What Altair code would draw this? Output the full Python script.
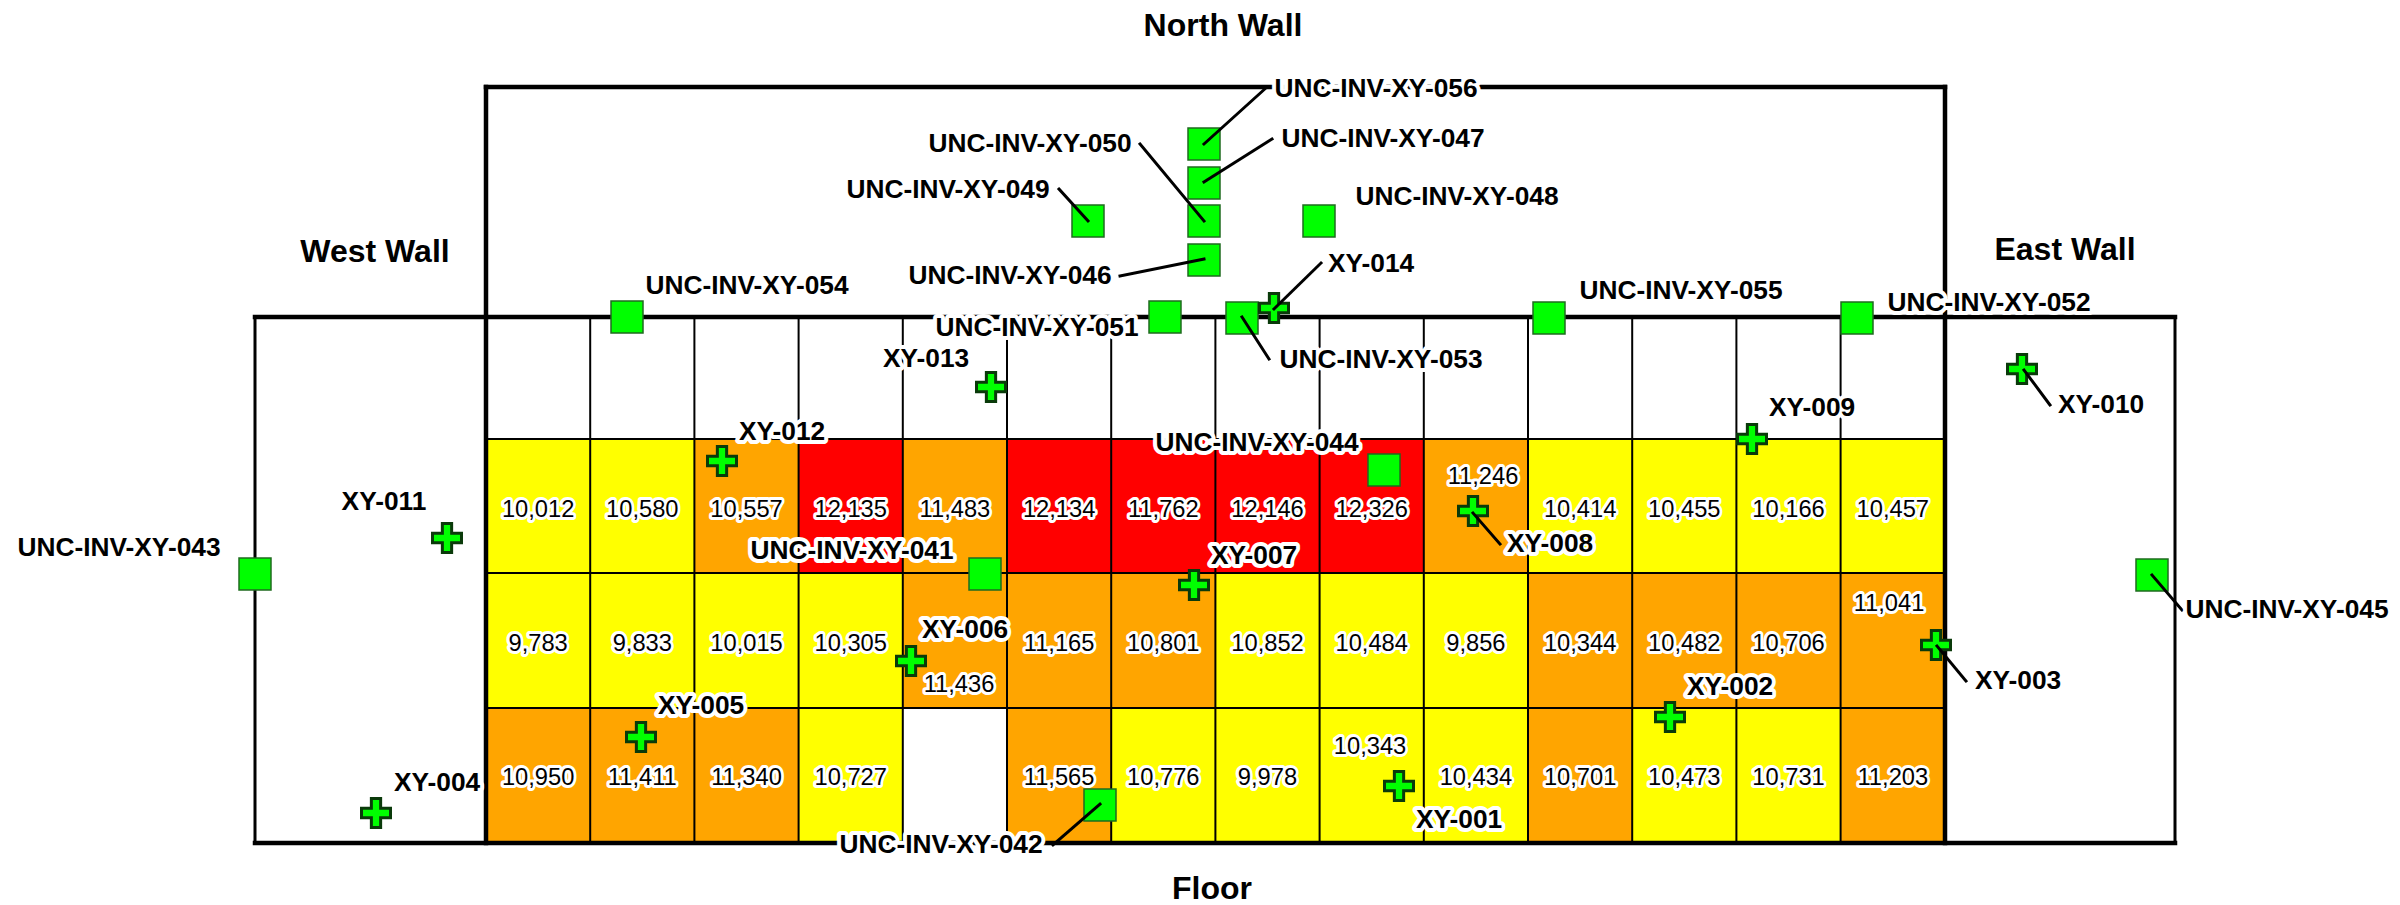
import altair as alt
import pandas as pd

# Floor plan positions are in plan units
COL_EDGES = [486.0, 590.2, 694.4, 798.6, 902.8, 1007.0, 1111.2, 1215.4, 1319.6, 1423.8, 1528.0, 1632.2, 1736.4, 1840.6, 1945.0]
ROW_EDGES = [439, 573, 708, 843]
ROW_VALUE_Y = [510, 644, 778]

ROW1 = ["10,012", "10,580", "10,557", "12,135", "11,483", "12,134", "11,762", "12,146", "12,326", "11,246", "10,414", "10,455", "10,166", "10,457"]
ROW2 = ["9,783", "9,833", "10,015", "10,305", "11,436", "11,165", "10,801", "10,852", "10,484", "9,856", "10,344", "10,482", "10,706", "11,041"]
ROW3 = ["10,950", "11,411", "11,340", "10,727", "", "11,565", "10,776", "9,978", "10,343", "10,434", "10,701", "10,473", "10,731", "11,203"]
CLASS1 = ["Y", "Y", "O", "R", "O", "R", "R", "R", "R", "O", "Y", "Y", "Y", "Y"]
CLASS2 = ["Y", "Y", "Y", "Y", "O", "O", "O", "Y", "Y", "Y", "O", "O", "O", "O"]
CLASS3 = ["O", "O", "O", "Y", "", "O", "Y", "Y", "Y", "Y", "O", "Y", "Y", "O"]

# Values that sit away from the centre of their cell
VALUE_OFFSETS = {"11,436": (959, 685), "11,246": (1483, 477), "11,041": (1889, 604), "10,343": (1370, 747)}

SQUARE_NAMES = ["043", "054", "056", "047", "050", "046", "049", "048", "051", "053", "055", "052", "045", "044", "041", "042"]
SQUARE_X = [255, 627, 1204, 1204, 1204, 1204, 1088, 1319, 1165, 1242, 1549, 1857, 2152, 1384, 985, 1100]
SQUARE_Y = [574, 317, 144, 183, 221, 260, 221, 221, 317, 318, 318, 318, 575, 470, 574, 805]
SQUARE_LABEL_X = [119, 747, 1376, 1383, 1030, 1010, 948, 1457, 1037, 1381, 1681, 1989, 2287, 1257, 852, 941]
SQUARE_LABEL_Y = [548, 286, 89, 139, 144, 276, 190, 197, 328, 360, 291, 303, 610, 443, 551, 845]

CROSS_NAMES = ["001", "002", "003", "004", "005", "006", "007", "008", "009", "010", "011", "012", "013", "014"]
CROSS_X = [1399, 1670, 1936, 376, 641, 911, 1194, 1473, 1752, 2022, 447, 722, 991, 1274]
CROSS_Y = [786, 717, 645, 813, 737, 661, 585, 511, 439, 369, 538, 461, 387, 308]
CROSS_LABEL_X = [1459, 1730, 2018, 437, 701, 965, 1254, 1550, 1812, 2101, 384, 782, 926, 1371]
CROSS_LABEL_Y = [820, 687, 681, 783, 706, 630, 556, 544, 408, 405, 502, 432, 359, 264]

WALL_NAMES = ["North Wall", "West Wall", "East Wall", "Floor"]
WALL_X = [1223, 375, 2065, 1212]
WALL_Y = [26, 252, 250, 889]

LEADER_X1 = [1267, 1272, 1140, 1059, 1120, 1321, 1269, 2050, 1500, 1966, 2182, 1053]
LEADER_Y1 = [87, 139, 144, 189, 276, 263, 359, 405, 544, 681, 610, 845]
LEADER_X2 = [1204, 1204, 1204, 1088, 1204, 1274, 1242, 2024, 1473, 1937, 2152, 1100]
LEADER_Y2 = [144, 182, 221, 221, 259, 309, 317, 370, 513, 646, 575, 804]

THICK_X1 = [486, 486, 1945, 255, 255]
THICK_Y1 = [87, 87, 87, 317, 843]
THICK_X2 = [1945, 486, 1945, 2175, 2175]
THICK_Y2 = [87, 843, 843, 317, 843]

SIDE_X = [255, 2175]
SIDE_Y1 = [317, 317]
SIDE_Y2 = [843, 843]

cells, values = [], []
for r, (vals, cls) in enumerate(zip([ROW1, ROW2, ROW3], [CLASS1, CLASS2, CLASS3])):
    for c, (v, k) in enumerate(zip(vals, cls)):
        if not v:
            continue
        cells.append({"x": COL_EDGES[c], "x2": COL_EDGES[c + 1], "y": ROW_EDGES[r], "y2": ROW_EDGES[r + 1], "k": k})
        px, py = VALUE_OFFSETS.get(v, ((COL_EDGES[c] + COL_EDGES[c + 1]) / 2, ROW_VALUE_Y[r]))
        values.append({"x": px, "y": py, "t": v})
cells = pd.DataFrame(cells)
values = pd.DataFrame(values)

grid = pd.DataFrame(
    [{"x": e, "x2": e, "y": 317, "y2": 843} for e in COL_EDGES[1:-1]]
    + [{"x": 486, "x2": 1945, "y": e, "y2": e} for e in ROW_EDGES[:-1]]
)
thick = pd.DataFrame({"x": THICK_X1, "y": THICK_Y1, "x2": THICK_X2, "y2": THICK_Y2})
side = pd.DataFrame({"x": SIDE_X, "x2": SIDE_X, "y": SIDE_Y1, "y2": SIDE_Y2})
leaders = pd.DataFrame({"x": LEADER_X1, "y": LEADER_Y1, "x2": LEADER_X2, "y2": LEADER_Y2})
squares = pd.DataFrame({"x": SQUARE_X, "y": SQUARE_Y})
crosses = pd.DataFrame({"x": CROSS_X, "y": CROSS_Y})
labels = pd.DataFrame({
    "x": SQUARE_LABEL_X + CROSS_LABEL_X,
    "y": SQUARE_LABEL_Y + CROSS_LABEL_Y,
    "t": ["UNC-INV-XY-" + n for n in SQUARE_NAMES] + ["XY-" + n for n in CROSS_NAMES],
})
walls = pd.DataFrame({"x": WALL_X, "y": WALL_Y, "t": WALL_NAMES})

X = alt.X("x:Q", scale=alt.Scale(domain=[8, 2392], range=[0, 2384], nice=False, zero=False), axis=None)
Y = alt.Y("y:Q", scale=alt.Scale(domain=[8, 905], range=[0, 897], nice=False, zero=False), axis=None)
X2 = alt.X2("x2:Q")
Y2 = alt.Y2("y2:Q")
FONT = "Liberation Sans"

fill = alt.Chart(cells).mark_rect(stroke=None).encode(
    x=X, x2=X2, y=Y, y2=Y2,
    color=alt.Color("k:N", legend=None,
                    scale=alt.Scale(domain=["Y", "O", "R"], range=["#FFFF00", "#FFA500", "#FF0000"])),
)


def rule(df, w):
    return alt.Chart(df).mark_rule(color="#000000", strokeWidth=w, strokeCap="square").encode(x=X, x2=X2, y=Y, y2=Y2)


def text(df, size, bold, halo):
    w = "bold" if bold else "normal"
    base = alt.Chart(df)
    enc = dict(x=X, y=Y, text="t:N")
    under = base.mark_text(font=FONT, fontSize=size, fontWeight=w, align="center", baseline="middle",
                           color="#FFFFFF", stroke="#FFFFFF", strokeWidth=halo, strokeJoin="round").encode(**enc)
    over = base.mark_text(font=FONT, fontSize=size, fontWeight=w, align="center", baseline="middle",
                          color="#000000").encode(**enc)
    return under + over


square_marks = alt.Chart(squares).mark_point(
    shape="square", size=1024, filled=True, fill="#00FF00", stroke="#1F6B1F", strokeWidth=1.5, opacity=1
).encode(x=X, y=Y)
cross_marks = alt.Chart(crosses).mark_point(
    shape="M-1,-0.32 L-0.32,-0.32 L-0.32,-1 L0.32,-1 L0.32,-0.32 L1,-0.32 L1,0.32 L0.32,0.32 L0.32,1 L-0.32,1 L-0.32,0.32 L-1,0.32 Z",
    size=841, filled=True, fill="#00FF00", stroke="#0A3A0A", strokeWidth=3, opacity=1
).encode(x=X, y=Y)

chart = alt.layer(
    fill,
    rule(grid, 2),
    rule(side, 3),
    rule(thick, 4.5),
    square_marks,
    cross_marks,
    rule(leaders, 3),
    text(values, 23.7, False, 6),
    text(labels, 26.3, True, 8),
    text(walls, 32, True, 2),
).properties(
    width=2384, height=897, padding=0,
    autosize=alt.AutoSizeParams(type="none"),
    background="#FFFFFF",
).configure_view(strokeWidth=0, stroke=None)

chart.save("out.html", embed_options={"renderer": "svg", "actions": False})
